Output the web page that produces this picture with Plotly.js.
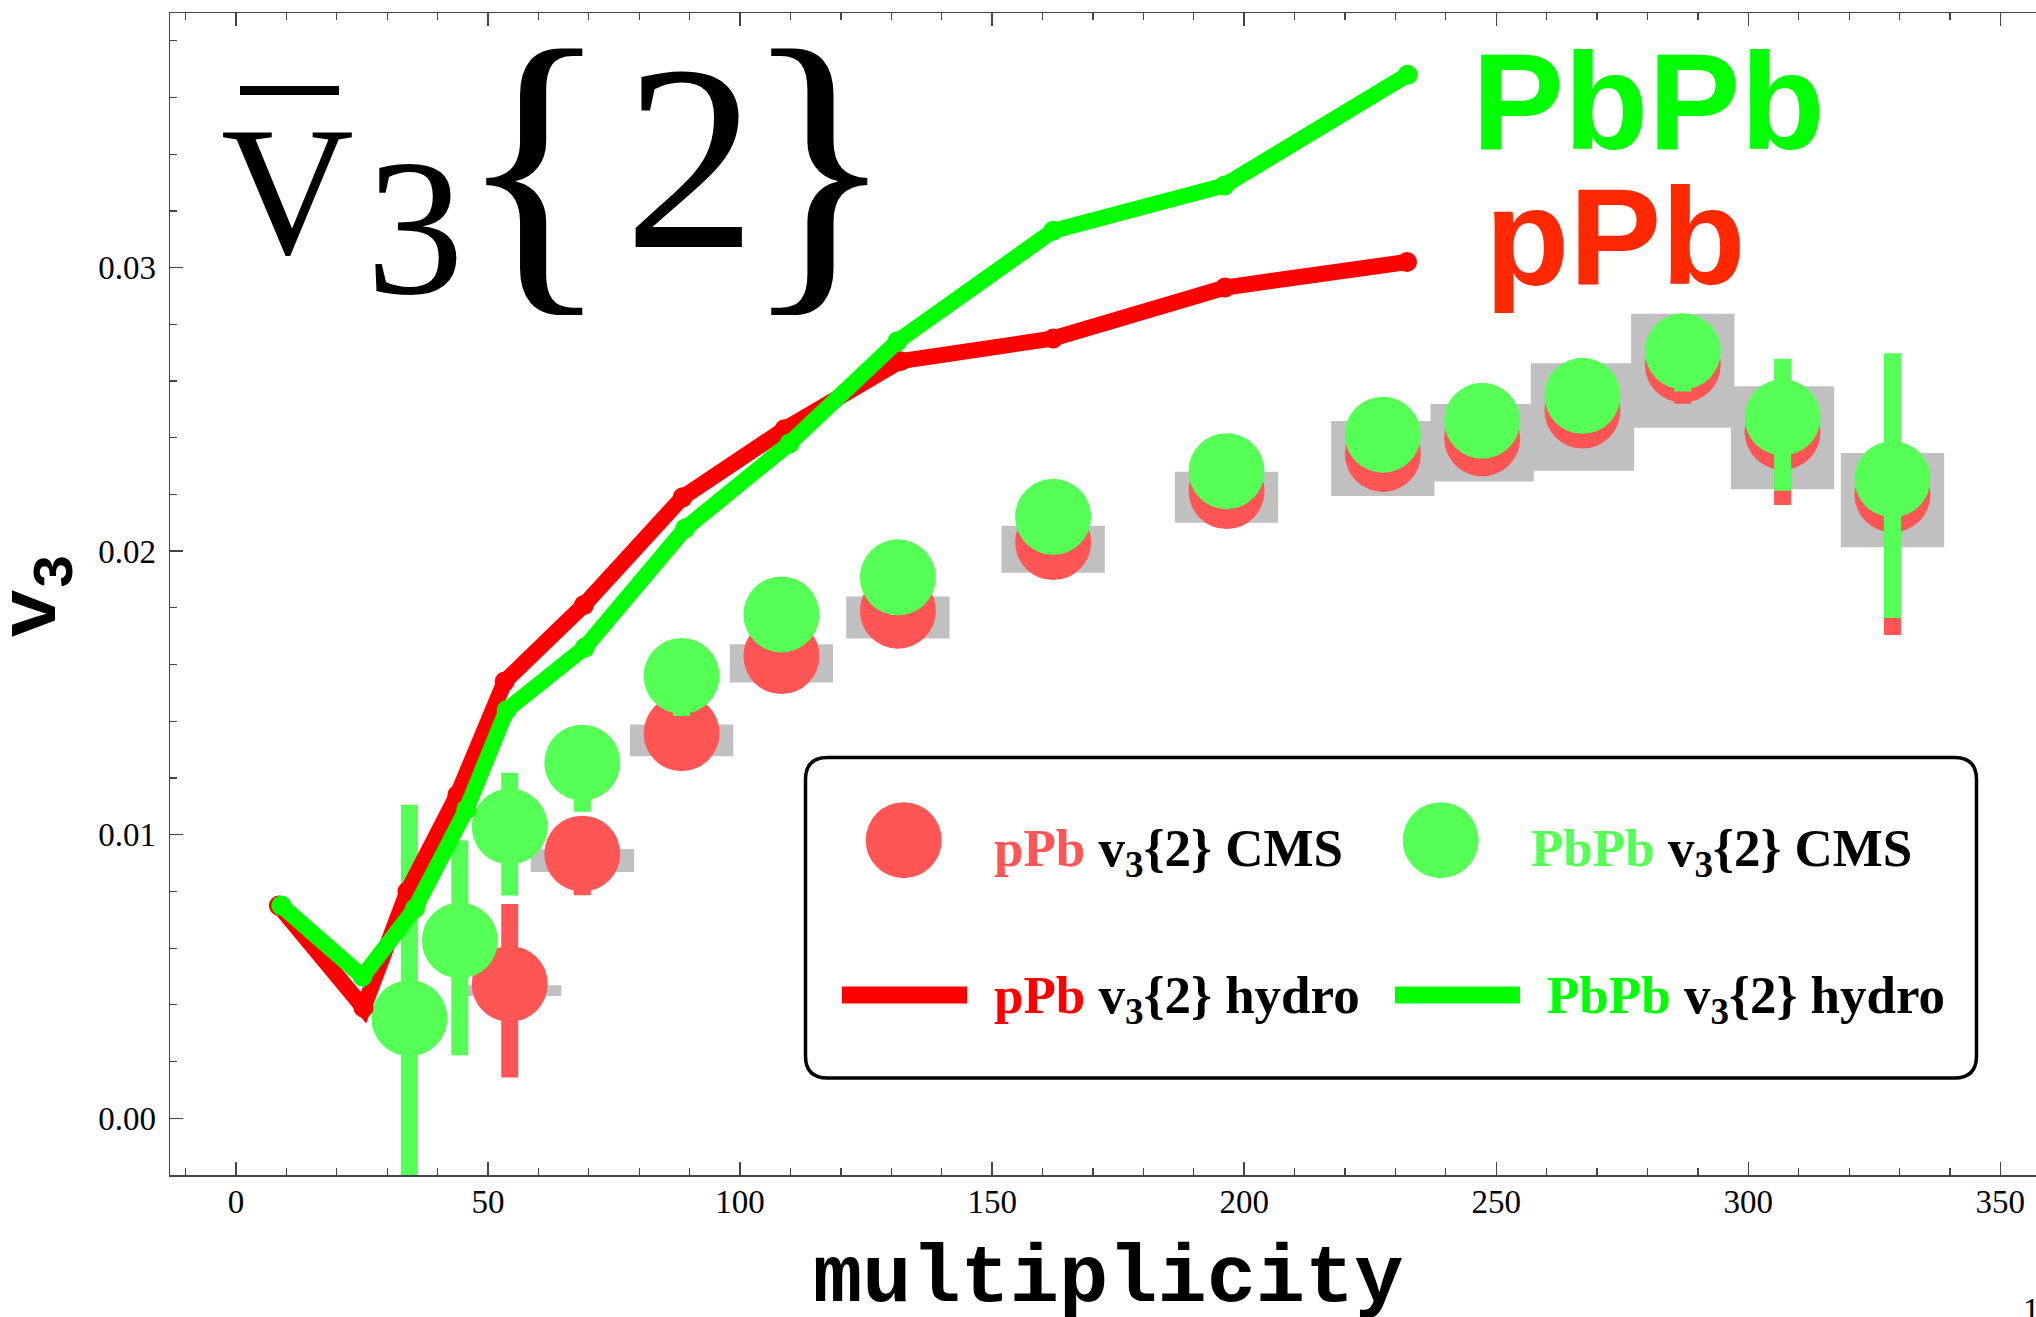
<!DOCTYPE html>
<html>
<head>
<meta charset="utf-8">
<script src="https://cdn.plot.ly/plotly-3.0.1.min.js"></script>
<style>
html,body{margin:0;padding:0;background:#ffffff;}
#chart{width:2036px;height:1317px;}
</style>
</head>
<body>
<div id="chart"></div>
<script>
// ---------------- data ----------------
// hydro calculations
const hydroPPbX  = [8.5, 25.3, 34.0, 43.9, 53.3, 69.0, 88.6, 108.8, 131.8, 162.1, 196.2, 232.3];
const hydroPPbY  = [0.0075, 0.0039, 0.0080, 0.0114, 0.0154, 0.0181, 0.0219, 0.0243, 0.0267, 0.0275, 0.0293, 0.0302];
const hydroPbPbX = [9.0, 25.1, 35.5, 45.7, 53.7, 69.2, 89.1, 109.8, 131.2, 162.1, 196.1, 232.4];
const hydroPbPbY = [0.0075, 0.0050, 0.0074, 0.0109, 0.0144, 0.0166, 0.0208, 0.0238, 0.0274, 0.0313, 0.0329, 0.0368];

// CMS pPb v3{2}
const cmsPPbX      = [54.3, 68.7, 88.4, 108.2, 131.3, 162.1, 196.5, 227.5, 247.2, 267.1, 287.0, 306.8, 328.6];
const cmsPPbY      = [0.00474, 0.00933, 0.01358, 0.0163, 0.0179, 0.02032, 0.02212, 0.02343, 0.02398, 0.02496, 0.02658, 0.02421, 0.0220];
const cmsPPbErrUp  = [0.00282, 0.0010, 0.0008, 0.0008, 0.0008, 0.0008, 0.0008, 0.0008, 0.0008, 0.0008, 0.0009, 0.0020, 0.0044];
const cmsPPbErrDn  = [0.0033, 0.00146, 0.0008, 0.0008, 0.0008, 0.0008, 0.0008, 0.0008, 0.0008, 0.0008, 0.00138, 0.00258, 0.00496];

// CMS PbPb v3{2}
const cmsPbPbX     = [34.4, 44.4, 54.3, 68.7, 88.4, 108.2, 131.3, 162.1, 196.5, 227.5, 247.2, 267.1, 287.0, 306.8, 328.6];
const cmsPbPbY     = [0.00353, 0.00627, 0.01029, 0.01254, 0.0156, 0.01777, 0.01908, 0.02121, 0.02282, 0.02411, 0.0246, 0.02548, 0.02705, 0.02472, 0.02254];
const cmsPbPbErrUp = [0.00753, 0.00353, 0.0019, 0.0012, 0.0009, 0.0008, 0.0008, 0.0008, 0.0008, 0.0008, 0.0008, 0.0008, 0.0009, 0.00207, 0.00444];
const cmsPbPbErrDn = [0.0080, 0.00405, 0.00243, 0.00173, 0.00141, 0.0008, 0.0008, 0.0008, 0.0008, 0.0008, 0.0008, 0.0008, 0.00142, 0.00259, 0.0049];

// systematic boxes (grey)
const sysX  = [54.3, 68.7, 88.4, 108.2, 131.3, 162.1, 196.5, 227.5, 247.2, 267.1, 287.0, 306.8, 328.6];
const sysLo = [0.00431, 0.00869, 0.01277, 0.01537, 0.01692, 0.01924, 0.0210, 0.02195, 0.02246, 0.02284, 0.02435, 0.02218, 0.02014];
const sysHi = [0.00469, 0.0095, 0.01389, 0.01672, 0.0184, 0.0209, 0.0228, 0.02459, 0.02519, 0.02663, 0.02837, 0.02582, 0.02346];

const xTickLabels = ['0', '50', '100', '150', '200', '250', '300', '350'];
const xTickVals   = [0, 50, 100, 150, 200, 250, 300, 350];
const yTickLabels = ['0.00', '0.01', '0.02', '0.03'];
const yTickVals   = [0, 0.01, 0.02, 0.03];

// ---------------- colours / styles ----------------
const C_PPB_PT   = '#ff5555';
const C_PBPB_PT  = '#55ff55';
const C_PPB_LN   = '#ff0000';
const C_PBPB_LN  = '#00ff00';
const C_SYS      = '#c0c0c0';
const SERIF = 'Liberation Serif, Times New Roman, serif';
const SANS  = 'Liberation Sans, Arial, sans-serif';
const MONO  = 'Liberation Mono, Courier New, monospace';

// plot area in pixels
const PL = 170, PT = 13, PW = 1866, PH = 1162;
const px = X => (X - PL) / PW;
const py = Y => (PT + PH - Y) / PH;

// ---------------- traces ----------------
const traces = [
  {
    type: 'bar', x: sysX, base: sysLo, y: sysHi.map((h, i) => h - sysLo[i]),
    width: 20.5, marker: {color: C_SYS, line: {width: 0}}, hoverinfo: 'skip'
  },
  {
    type: 'scatter', mode: 'markers', x: cmsPPbX, y: cmsPPbY,
    marker: {size: 76, color: C_PPB_PT, line: {width: 0}},
    error_y: {type: 'data', symmetric: false, array: cmsPPbErrUp, arrayminus: cmsPPbErrDn,
              thickness: 17, width: 0, color: C_PPB_PT}
  },
  {
    type: 'scatter', mode: 'markers', x: cmsPbPbX, y: cmsPbPbY,
    marker: {size: 76, color: C_PBPB_PT, line: {width: 0}},
    error_y: {type: 'data', symmetric: false, array: cmsPbPbErrUp, arrayminus: cmsPbPbErrDn,
              thickness: 17, width: 0, color: C_PBPB_PT}
  },
  {
    type: 'scatter', mode: 'lines+markers', x: hydroPPbX, y: hydroPPbY,
    line: {color: C_PPB_LN, width: 16}, marker: {color: C_PPB_LN, size: 20}
  },
  {
    type: 'scatter', mode: 'lines+markers', x: hydroPbPbX, y: hydroPbPbY,
    line: {color: C_PBPB_LN, width: 16}, marker: {color: C_PBPB_LN, size: 20}
  }
];

// ---------------- annotations ----------------
function ann(text, X, Y, font, opts) {
  return Object.assign({
    text: text, xref: 'paper', yref: 'paper', x: px(X), y: py(Y),
    xanchor: 'center', yanchor: 'middle', showarrow: false, font: font
  }, opts || {});
}
const annotations = [
  // big title  \bar{v}_3{2}
  ann('V', 287.7, 190.8, {family: SERIF, size: 184, color: '#000'}),
  ann('3', 414.6, 226.8, {family: SERIF, size: 196, color: '#000'}),
  ann('{', 534, 163, {family: SERIF, size: 322, color: '#000'}),
  ann('2', 690, 157, {family: SERIF, size: 265, color: '#000'}),
  ann('}', 819, 163, {family: SERIF, size: 322, color: '#000'}),
  // big system labels
  ann('<b>PbPb</b>', 1470, 100.5, {family: SANS, size: 138, color: C_PBPB_LN}, {xanchor: 'left'}),
  ann('<b>pPb</b>', 1483, 235.5, {family: SANS, size: 138, color: '#ff2800'}, {xanchor: 'left'}),
  // legend texts
  ann('<b><span style="color:' + C_PPB_PT + '">pPb</span> v<sub>3</sub>{2} CMS</b>', 992, 852, {family: SERIF, size: 53, color: '#000'}, {xanchor: 'left'}),
  ann('<b><span style="color:' + C_PBPB_PT + '">PbPb</span> v<sub>3</sub>{2} CMS</b>', 1529, 852, {family: SERIF, size: 53, color: '#000'}, {xanchor: 'left'}),
  ann('<b><span style="color:' + C_PPB_LN + '">pPb</span> v<sub>3</sub>{2} hydro</b>', 992, 999, {family: SERIF, size: 53, color: '#000'}, {xanchor: 'left'}),
  ann('<b><span style="color:' + C_PBPB_LN + '">PbPb</span> v<sub>3</sub>{2} hydro</b>', 1545, 999, {family: SERIF, size: 53, color: '#000'}, {xanchor: 'left'}),
  // axis titles
  ann('<b>multiplicity</b>', 1108, 1279, {family: MONO, size: 82, color: '#000'}),
  ann('<b>v<sub>3</sub></b>', 38, 596, {family: MONO, size: 82, color: '#000'}, {textangle: -90}),
  // stray page number in the corner
  ann('1', 2031, 1310, {family: SERIF, size: 33, color: '#000'})
];

// ---------------- shapes ----------------
function roundRect(X0, Y0, X1, Y1, r) {
  const a = px(X0), b = px(X1), c = py(Y0), d = py(Y1);
  const rx = r / PW, ry = r / PH;
  return 'M' + (a + rx) + ',' + c +
    ' L' + (b - rx) + ',' + c + ' Q' + b + ',' + c + ' ' + b + ',' + (c - ry) +
    ' L' + b + ',' + (d + ry) + ' Q' + b + ',' + d + ' ' + (b - rx) + ',' + d +
    ' L' + (a + rx) + ',' + d + ' Q' + a + ',' + d + ' ' + a + ',' + (d + ry) +
    ' L' + a + ',' + (c - ry) + ' Q' + a + ',' + c + ' ' + (a + rx) + ',' + c + ' Z';
}
function circ(Xc, Yc, r, color) {
  return {type: 'circle', xref: 'paper', yref: 'paper',
    x0: px(Xc - r), x1: px(Xc + r), y0: py(Yc + r), y1: py(Yc - r),
    fillcolor: color, line: {width: 0}};
}
function hline(X0, X1, Y, color, w) {
  return {type: 'line', xref: 'paper', yref: 'paper',
    x0: px(X0), x1: px(X1), y0: py(Y), y1: py(Y), line: {color: color, width: w}};
}
const shapes = [
  // overbar of the title
  {type: 'rect', xref: 'paper', yref: 'paper', x0: px(240), x1: px(339), y0: py(95), y1: py(86),
   fillcolor: '#000', line: {width: 0}},
  // legend frame
  {type: 'path', xref: 'paper', yref: 'paper', path: roundRect(805.5, 757.5, 1976.5, 1078, 22),
   line: {color: '#000', width: 3.5}, fillcolor: 'rgba(0,0,0,0)'},
  circ(903.7, 840.2, 38, C_PPB_PT),
  circ(1440.7, 840.2, 38, C_PBPB_PT),
  hline(842, 967, 995, C_PPB_LN, 17),
  hline(1395, 1520, 995, C_PBPB_LN, 17)
];

// ---------------- layout ----------------
const axisCommon = {
  showgrid: false, zeroline: false, showline: true, linecolor: '#444', linewidth: 1.5,
  ticks: 'inside', ticklen: 13, tickwidth: 1.5, tickcolor: '#444',
  tickfont: {family: SERIF, size: 33, color: '#000'}
};
const layout = {
  width: 2036, height: 1317,
  margin: {l: PL, r: 2036 - PL - PW, t: PT, b: 1317 - PT - PH, pad: 0},
  paper_bgcolor: '#ffffff', plot_bgcolor: '#ffffff',
  showlegend: false,
  xaxis: Object.assign({}, axisCommon, {
    range: [-13.09, 357.07], tickmode: 'array', tickvals: xTickVals, ticktext: xTickLabels,
    mirror: 'ticks', ticklabelstandoff: -3,
    minor: {tick0: -10, dtick: 10, ticks: 'inside', ticklen: 7, tickwidth: 1.2, tickcolor: '#444', showgrid: false}
  }),
  yaxis: Object.assign({}, axisCommon, {
    range: [-0.002, 0.03898], tickmode: 'array', tickvals: yTickVals, ticktext: yTickLabels,
    mirror: false, ticklabelstandoff: 6,
    minor: {tick0: 0, dtick: 0.002, ticks: 'inside', ticklen: 7, tickwidth: 1.2, tickcolor: '#444', showgrid: false}
  }),
  annotations: annotations,
  shapes: shapes
};

Plotly.newPlot('chart', traces, layout, {displayModeBar: false, staticPlot: true});
</script>
</body>
</html>
